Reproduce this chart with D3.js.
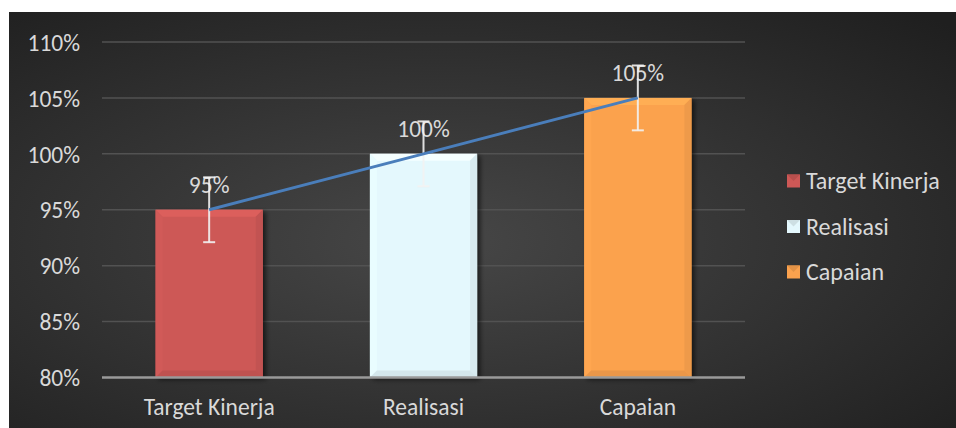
<!DOCTYPE html>
<html>
<head>
<meta charset="utf-8">
<script src="https://cdn.jsdelivr.net/npm/d3@7"></script>
<style>
  html, body { margin: 0; padding: 0; background: #ffffff; }
  svg { display: block; }
  text { font-family: Carlito, Lato, "Open Sans", sans-serif; }
</style>
</head>
<body>
<svg id="chart" width="956" height="428"></svg>
<script>
// Chart data
const categories = ["Target Kinerja", "Realisasi", "Capaian"];
const values = [95, 100, 105];          // percent
const errorAmounts = [2.9, 2.9, 2.9];   // ± percent
const yTicks = [80, 85, 90, 95, 100, 105, 110];
const barColors = ["#cd5856", "#e4f8fd", "#fba24e"];

const svg = d3.select("#chart");
const W = 956, H = 428;

// Background panel with a soft radial glow
const defs = svg.append("defs");
const rg = defs.append("radialGradient")
  .attr("id", "bg").attr("cx", "45%").attr("cy", "55%").attr("r", "75%");
rg.append("stop").attr("offset", "0%").attr("stop-color", "#474747");
rg.append("stop").attr("offset", "100%").attr("stop-color", "#1f1f1f");

const shadow = defs.append("filter").attr("id", "shadow")
  .attr("x", "-20%").attr("y", "-20%").attr("width", "150%").attr("height", "150%");
shadow.append("feGaussianBlur").attr("in", "SourceAlpha").attr("stdDeviation", 2.5);
shadow.append("feOffset").attr("dx", 3).attr("dy", 2).attr("result", "off");
shadow.append("feComponentTransfer").append("feFuncA").attr("type", "linear").attr("slope", 0.6);
const merge = shadow.append("feMerge");
merge.append("feMergeNode");
merge.append("feMergeNode").attr("in", "SourceGraphic");

svg.append("rect")
  .attr("x", 9).attr("y", 12).attr("width", W - 9).attr("height", H - 12)
  .attr("fill", "url(#bg)");

const plot = { left: 102, right: 745, top: 42, bottom: 377.5 };

const x = d3.scaleBand().domain(categories).range([plot.left, plot.right]).paddingInner(0).paddingOuter(0);
const y = d3.scaleLinear().domain([80, 110]).range([plot.bottom, plot.top]);

// Gridlines
svg.append("g").selectAll("line").data(yTicks.slice(1)).join("line")
  .attr("x1", plot.left).attr("x2", plot.right)
  .attr("y1", d => y(d)).attr("y2", d => y(d))
  .attr("stroke", "#525252").attr("stroke-width", 1.5);

// Y axis labels
const yAxis = d3.axisLeft(y).tickValues(yTicks).tickFormat(d => d + "%").tickSize(0).tickPadding(0);
const ya = svg.append("g").attr("transform", `translate(80,0)`).call(yAxis);
ya.select(".domain").remove();
ya.selectAll("text").attr("fill", "#d9d9d9").attr("font-size", 23.5).attr("dy", "0.35em");

// Bars with bevelled edges
const barW = x.bandwidth() * 0.5;
const bev = 7;
const bars = svg.append("g").selectAll("g.bar").data(values).join("g").attr("class", "bar");
bars.each(function(v, i) {
  const g = d3.select(this);
  const cx = x(categories[i]) + x.bandwidth() / 2;
  const x0 = cx - barW / 2, x1 = cx + barW / 2;
  const y0 = y(v), y1 = y(80);
  const c = d3.color(barColors[i]);
  g.append("rect").attr("x", x0).attr("y", y0).attr("width", barW).attr("height", y1 - y0)
    .attr("fill", c.formatHex()).attr("filter", "url(#shadow)");
  // top bevel (lighter)
  g.append("polygon")
    .attr("points", [[x0, y0], [x1, y0], [x1 - bev, y0 + bev], [x0 + bev, y0 + bev]].join(" "))
    .attr("fill", c.brighter(0.2).formatHex());
  // left bevel
  g.append("polygon")
    .attr("points", [[x0, y0], [x0 + bev, y0 + bev], [x0 + bev, y1 - bev], [x0, y1]].join(" "))
    .attr("fill", c.brighter(0.06).formatHex());
  // right bevel (darker)
  g.append("polygon")
    .attr("points", [[x1, y0], [x1, y1], [x1 - bev, y1 - bev], [x1 - bev, y0 + bev]].join(" "))
    .attr("fill", c.darker(0.15).formatHex());
  // bottom bevel (darker)
  g.append("polygon")
    .attr("points", [[x0, y1], [x1, y1], [x1 - bev, y1 - bev], [x0 + bev, y1 - bev]].join(" "))
    .attr("fill", c.darker(0.2).formatHex());
});

// Baseline axis
svg.append("line")
  .attr("x1", plot.left).attr("x2", plot.right)
  .attr("y1", y(80)).attr("y2", y(80))
  .attr("stroke", "#9a9a9a").attr("stroke-width", 2.5);

// Category labels
const xAxis = d3.axisBottom(x).tickSize(0).tickPadding(0);
const xa = svg.append("g").attr("transform", `translate(0,${y(80)})`).call(xAxis);
xa.select(".domain").remove();
xa.selectAll("text").attr("fill", "#d9d9d9").attr("font-size", 23.5)
  .attr("y", 37.5).attr("dy", null);

// Data labels
svg.append("g").selectAll("text").data(values).join("text")
  .attr("x", (d, i) => x(categories[i]) + x.bandwidth() / 2)
  .attr("y", d => y(d) - 17)
  .attr("text-anchor", "middle")
  .attr("fill", "#d9d9d9").attr("font-size", 23.5)
  .text(d => d + "%");

// Error bars
const eg = svg.append("g").attr("stroke", "#f2f2f2").attr("stroke-width", 2).attr("stroke-opacity", 0.9);
values.forEach((v, i) => {
  const cx = x(categories[i]) + x.bandwidth() / 2;
  const top = y(v + errorAmounts[i]), bot = y(v - errorAmounts[i]);
  eg.append("line").attr("x1", cx).attr("x2", cx).attr("y1", top).attr("y2", bot);
  eg.append("line").attr("x1", cx - 6).attr("x2", cx + 6).attr("y1", top).attr("y2", top);
  eg.append("line").attr("x1", cx - 6).attr("x2", cx + 6).attr("y1", bot).attr("y2", bot);
});

// Trend line across bar tops
const line = d3.line()
  .x((d, i) => x(categories[i]) + x.bandwidth() / 2)
  .y(d => y(d));
svg.append("path").datum(values).attr("d", line)
  .attr("fill", "none").attr("stroke", "#4a7ebb").attr("stroke-width", 3);

// Legend
const legend = svg.append("g").attr("transform", "translate(787,181)");
categories.forEach((c, i) => {
  const g = legend.append("g").attr("transform", `translate(0,${i * 45.5})`);
  const col = d3.color(barColors[i]);
  g.append("rect").attr("x", 0).attr("y", -6.5).attr("width", 13).attr("height", 13)
    .attr("fill", col.formatHex());
  g.append("polygon").attr("points", "0,-6.5 13,-6.5 6.5,0").attr("fill", col.darker(0.3).formatHex());
  g.append("text").attr("x", 19).attr("y", 0).attr("dy", "0.35em")
    .attr("fill", "#d9d9d9").attr("font-size", 24).text(c);
});
</script>
</body>
</html>
